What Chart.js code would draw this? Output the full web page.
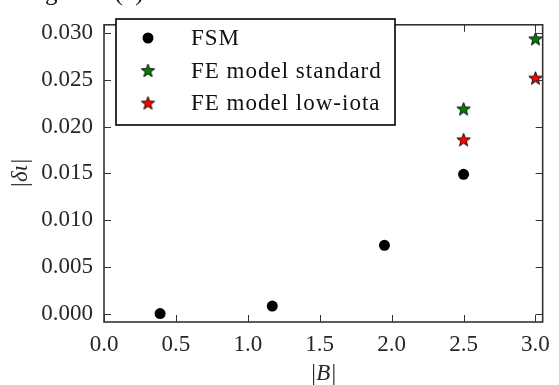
<!DOCTYPE html>
<html>
<head>
<meta charset="utf-8">
<script src="https://cdn.jsdelivr.net/npm/chart.js@4.4.1/dist/chart.umd.min.js"></script>
<style>
    html, body {
        margin: 0;
        padding: 0;
        background: #ffffff;
        overflow: hidden;
    }
    #wrap {
        position: relative;
        width: 559px;
        height: 385px;
    }
    #cut {
        position: absolute;
        left: 4px;
        top: -21px;
        font-family: "Liberation Serif", serif;
        font-size: 25px;
        line-height: 1;
        color: #111;
        white-space: nowrap;
    }
</style>
</head>
<body>
<div id="wrap">
    <canvas id="deltaChart" width="559" height="385"></canvas>
    <div id="cut">in figure 6 (b).</div>
</div>
<script>

// values
const fsmB = [0.39, 1.17, 1.95, 2.5];
const fsmDelta = [0.0000, 0.0008, 0.0073, 0.0149];

const stdB = [2.5, 3.0];
const stdDelta = [0.0219, 0.0294];

const lowB = [2.5, 3.0];
const lowDelta = [0.0186, 0.0252];

const xTicks = [0.0, 0.5, 1.0, 1.5, 2.0, 2.5, 3.0];
const yTicks = [0.000, 0.005, 0.010, 0.015, 0.020, 0.025, 0.030];

const seriesNames = ["FSM", "FE model standard", "FE model low-iota"];

const serif = "'Liberation Serif', 'Times New Roman', serif";
const axisColor = "#333333";


function makeStar(fill) {

    const c = document.createElement("canvas");
    c.width = 17;
    c.height = 17;

    const ctx = c.getContext("2d");
    const cx = 8.5;
    const cy = 9;
    const outer = 7;
    const inner = 2.9;

    ctx.beginPath();

    for (let i = 0; i < 10; i++) {
        const r = i % 2 === 0 ? outer : inner;
        const a = -Math.PI / 2 + i * Math.PI / 5;
        const px = cx + r * Math.cos(a);
        const py = cy + r * Math.sin(a);
        if (i === 0) {
            ctx.moveTo(px, py);
        } else {
            ctx.lineTo(px, py);
        }
    }

    ctx.closePath();
    ctx.fillStyle = fill;
    ctx.fill();
    ctx.lineWidth = 0.9;
    ctx.strokeStyle = "#000000";
    ctx.stroke();

    return c;
}

const greenStar = makeStar("#008000");
const redStar = makeStar("#ff0000");

function toPoints(xs, ys) {
    return xs.map((x, i) => ({x: x, y: ys[i]}));
}


// inward ticks on all four sides + frame + legend box
const framePlugin = {

    id: "frame",

    afterDraw(chart) {

        const ctx = chart.ctx;
        const area = chart.chartArea;
        const xs = chart.scales.x;
        const ys = chart.scales.y;
        const len = 7;

        ctx.save();

        ctx.strokeStyle = axisColor;
        ctx.lineWidth = 1;

        xTicks.forEach((v) => {
            const px = Math.round(xs.getPixelForValue(v)) + 0.5;
            ctx.beginPath();
            ctx.moveTo(px, area.bottom);
            ctx.lineTo(px, area.bottom - len);
            ctx.moveTo(px, area.top);
            ctx.lineTo(px, area.top + len);
            ctx.stroke();
        });

        yTicks.forEach((v) => {
            const py = Math.round(ys.getPixelForValue(v)) + 0.5;
            ctx.beginPath();
            ctx.moveTo(area.left, py);
            ctx.lineTo(area.left + len, py);
            ctx.moveTo(area.right, py);
            ctx.lineTo(area.right - len, py);
            ctx.stroke();
        });

        ctx.lineWidth = 1.6;
        ctx.strokeRect(
            area.left,
            area.top,
            area.right - area.left,
            area.bottom - area.top
        );

        // legend
        const bx = 116;
        const by = 19;
        const bw = 279;
        const bh = 106;

        ctx.fillStyle = "#ffffff";
        ctx.fillRect(bx, by, bw, bh);
        ctx.strokeStyle = "#000000";
        ctx.lineWidth = 1.6;
        ctx.strokeRect(bx, by, bw, bh);

        ctx.font = "23px " + serif;
        ctx.textBaseline = "middle";
        ctx.textAlign = "left";
        ctx.letterSpacing = "1px";

        chart.data.datasets.forEach((ds, i) => {

            const rowY = 38 + i * 32.5;
            const mx = 148;

            if (ds.pointStyle === "circle") {
                ctx.beginPath();
                ctx.arc(mx, rowY, ds.pointRadius, 0, Math.PI * 2);
                ctx.fillStyle = ds.pointBackgroundColor;
                ctx.fill();
            } else {
                const img = ds.pointStyle;
                ctx.drawImage(img, mx - img.width / 2, rowY - img.height / 2);
            }

            ctx.fillStyle = "#111111";
            ctx.fillText(ds.label, 191, rowY + 1);

        });

        ctx.restore();
    },
};


new Chart(document.getElementById("deltaChart"), {

    type: "scatter",

    data: {

        datasets: [

            {
                label: seriesNames[0],
                data: toPoints(fsmB, fsmDelta),
                pointStyle: "circle",
                pointRadius: 5.5,
                pointBackgroundColor: "#000000",
                pointBorderWidth: 0,
                clip: false,
            },

            {
                label: seriesNames[1],
                data: toPoints(stdB, stdDelta),
                pointStyle: greenStar,
                pointRadius: 7,
                clip: false,
            },

            {
                label: seriesNames[2],
                data: toPoints(lowB, lowDelta),
                pointStyle: redStar,
                pointRadius: 7,
                clip: false,
            },

        ],

    },

    options: {

        responsive: false,
        animation: false,
        devicePixelRatio: 1,

        layout: {
            padding: {top: 8, right: 9, left: 0, bottom: 0},
        },

        plugins: {
            legend: {display: false},
            tooltip: {enabled: false},
        },

        scales: {

            x: {
                type: "linear",
                min: 0,
                max: 3.05,
                afterBuildTicks: (scale) => {
                    scale.ticks = xTicks.map((v) => ({value: v}));
                },
                afterFit: (scale) => {
                    scale.height = 63;
                },
                grid: {display: false, drawTicks: false},
                border: {display: false},
                ticks: {
                    padding: 9,
                    color: "#262626",
                    font: {family: serif, size: 23},
                    callback: (v) => Number(v).toFixed(1),
                },
                title: {
                    display: true,
                    text: "|B|",
                    color: "#262626",
                    padding: {top: 0, bottom: 0},
                    font: {family: serif, size: 23, style: "italic", lineHeight: 1},
                },
            },

            y: {
                type: "linear",
                min: -0.0009,
                max: 0.0309,
                afterBuildTicks: (scale) => {
                    scale.ticks = yTicks.map((v) => ({value: v}));
                },
                afterFit: (scale) => {
                    scale.width = 104;
                },
                grid: {display: false, drawTicks: false},
                border: {display: false},
                ticks: {
                    padding: 11,
                    color: "#262626",
                    font: {family: serif, size: 23},
                    callback: (v) => Number(v).toFixed(3),
                },
                title: {
                    display: true,
                    text: "|δι|",
                    color: "#262626",
                    padding: {top: 9, bottom: 0},
                    font: {family: serif, size: 23, style: "italic", lineHeight: 1},
                },
            },

        },

    },

    plugins: [framePlugin],

});

</script>
</body>
</html>
